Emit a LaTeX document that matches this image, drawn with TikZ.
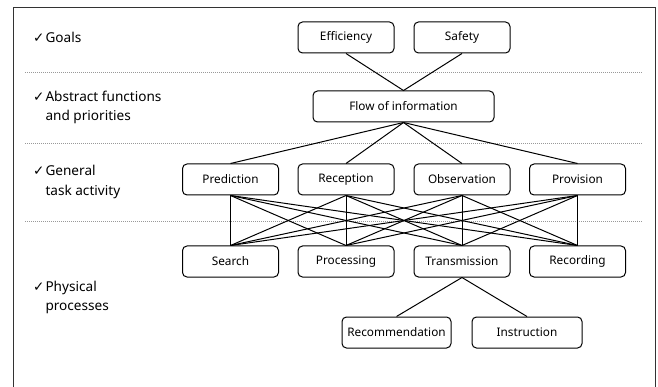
\documentclass[tikz,border=0pt]{standalone}
\usepackage{fontspec}
\setmainfont{Noto Sans}
\newfontfamily\symfont{DejaVu Sans}
\newcommand{\ck}{{\symfont\fontsize{13.5}{14}\selectfont ✓}\hspace{1pt}}
\begin{document}
\begin{tikzpicture}[x=1pt,y=-1pt,
  box/.style={draw=black,line width=1pt,rounded corners=4.5pt,minimum height=31pt,inner sep=0pt,font=\fontsize{11.8}{13}\selectfont},
  w96/.style={minimum width=96pt},
  link/.style={draw=black,line width=1pt},
  sep/.style={draw=gray!80,line width=0.8pt,dash pattern=on 1pt off 1pt},
  lab/.style={anchor=west,align=left,inner sep=0pt,font=\fontsize{13.6}{19.5}\selectfont}]
\useasboundingbox (0,0) rectangle (658,387);
% frame
\draw[line width=1pt,black!80] (13,387) -- (13,8) -- (655,8) -- (655,387);
% separators
\draw[sep] (25,72) -- (643,72);
\draw[sep] (25,143) -- (643,143);
\draw[sep] (25,221) -- (643,221);
% labels
\node[lab] (lg) at (33,37) {\ck Goals};
\node[lab] (la) at (33,107.5) {\ck Abstract functions\\\phantom{\ck}and priorities};
\node[lab] (lt) at (33,182) {\ck General\\\phantom{\ck}task activity};
\node[lab] (lp) at (33,297.5) {\ck Physical\\\phantom{\ck}processes};
% nodes
\node[box,w96] (eff) at (346,37.5) {Efficiency};
\node[box,w96] (saf) at (462,37.5) {Safety};
\node[box,minimum width=181pt] (flow) at (403.5,106.5) {Flow of information};
\node[box,w96] (pred) at (230.5,179.5) {Prediction};
\node[box,w96] (rec) at (346,179.5) {Reception};
\node[box,w96] (obs) at (462,179.5) {Observation};
\node[box,w96] (prov) at (577.5,179.5) {Provision};
\node[box,w96] (sea) at (230.5,261.5) {Search};
\node[box,w96] (proc) at (346,261.5) {Processing};
\node[box,w96] (tra) at (462,261.5) {Transmission};
\node[box,w96] (rcd) at (577.5,261.5) {Recording};
\node[box,minimum width=109pt] (recom) at (396.5,332.5) {Recommendation};
\node[box,minimum width=110pt] (ins) at (527,332.5) {Instruction};
% connectors
\draw[link] (eff.south) -- (flow.north) -- (saf.south);
\foreach \t in {pred,rec,obs,prov} \draw[link] (flow.south) -- (\t.north);
\foreach \a in {pred,rec,obs,prov}
  \foreach \b in {sea,proc,tra,rcd}
    \draw[link] (\a.south) -- (\b.north);
\draw[link] (tra.south) -- (recom.north);
\draw[link] (tra.south) -- (ins.north);
\end{tikzpicture}
\end{document}
